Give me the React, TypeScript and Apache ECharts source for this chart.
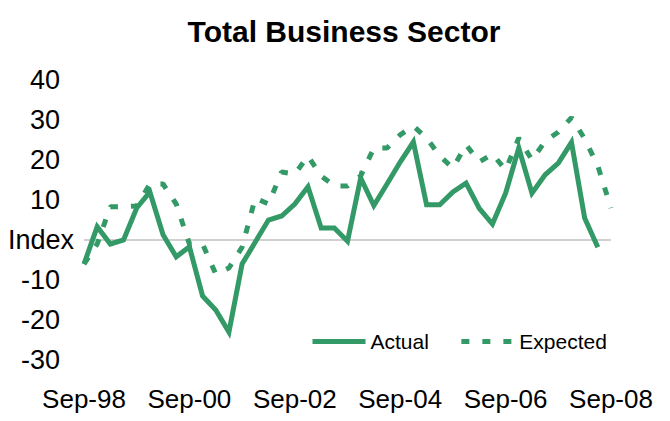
import React, { useEffect, useRef } from "react";
import * as echarts from "echarts";

const categories: string[] = [
  "Sep-98", "Dec-98", "Mar-99", "Jun-99", "Sep-99", "Dec-99", "Mar-00", "Jun-00",
  "Sep-00", "Dec-00", "Mar-01", "Jun-01", "Sep-01", "Dec-01", "Mar-02", "Jun-02",
  "Sep-02", "Dec-02", "Mar-03", "Jun-03", "Sep-03", "Dec-03", "Mar-04", "Jun-04",
  "Sep-04", "Dec-04", "Mar-05", "Jun-05", "Sep-05", "Dec-05", "Mar-06", "Jun-06",
  "Sep-06", "Dec-06", "Mar-07", "Jun-07", "Sep-07", "Dec-07", "Mar-08", "Jun-08",
  "Sep-08",
];

const actual: (number | null)[] = [
  -6, 3.3, -1, 0, 8, 12, 1.3, -4.2, -1.7, -14, -17.5, -23, -6, -0.5, 5, 6,
  9, 13.3, 3, 3, -0.3, 15.5, 8.6, 14, 19.5, 24.5, 8.8, 8.8, 12, 14.2, 7.9, 4,
  11.7, 23, 11.7, 16.3, 19.2, 24.4, 5.5, -1.8, null,
];

const expected: number[] = [
  -6, -1, 8.3, 8.3, 8.5, 14, 14, 9, -1, -1, -8.5, -7, -1.8, 10.5, 9, 17,
  16.5, 21, 16, 13.5, 13.5, 16, 23, 23, 26.3, 28.5, 25.5, 21, 18, 23.8, 19.5, 21.5,
  17.5, 25.5, 20, 24.7, 27, 30.6, 25.3, 18.5, 8,
];

const yTicks = { min: -30, max: 40, interval: 10 };
const zeroLabel = "Index";
const seriesNames = ["Actual", "Expected"];
const title = "Total Business Sector";

const GREEN = "#339966";
const FONT = "'Liberation Sans', Arial, sans-serif";

export default function App() {
  const ref = useRef<HTMLDivElement>(null);
  useEffect(() => {
    if (!ref.current) return;
    const chart = echarts.init(ref.current, null, { renderer: "svg" });
    chart.setOption({
      animation: false,
      backgroundColor: "#ffffff",
      textStyle: { fontFamily: FONT },
      title: {
        text: title,
        left: 339,
        textAlign: "center",
        top: 11,
        textStyle: { fontFamily: FONT, fontSize: 30, fontWeight: "bold", color: "#000" },
      },
      grid: { left: 84, right: 59, top: 80, bottom: 61 },
      legend: {
        left: 310,
        top: 331,
        padding: 0,
        itemWidth: 53,
        itemHeight: 14,
        itemGap: 30,
        data: seriesNames,
        itemStyle: { opacity: 0 },
        lineStyle: { width: 5 },
        textStyle: { fontFamily: FONT, fontSize: 21, color: "#000" },
      },
      xAxis: {
        type: "category",
        data: categories,
        boundaryGap: false,
        axisLine: { show: false },
        axisTick: { show: false },
        splitLine: { show: false },
        axisLabel: {
          interval: 7,
          margin: 26,
          fontFamily: FONT,
          fontSize: 26,
          color: "#000",
        },
      },
      yAxis: {
        type: "value",
        min: yTicks.min,
        max: yTicks.max,
        interval: yTicks.interval,
        axisLine: { show: false },
        axisTick: { show: false },
        splitLine: { show: false },
        axisLabel: {
          margin: 24,
          fontFamily: FONT,
          fontSize: 27,
          color: "#000",
          formatter: (v: number) => (v === 0 ? "" : String(v)),
        },
      },
      graphic: [
        {
          type: "text",
          left: 8,
          top: 226,
          style: { text: zeroLabel, font: `27px ${FONT}`, fill: "#000" },
        },
      ],
      series: [
        {
          name: seriesNames[0],
          type: "line",
          data: actual,
          symbol: "none",
          lineStyle: { color: GREEN, width: 5, join: "miter" },
          itemStyle: { color: GREEN },
          z: 3,
          markLine: {
            silent: true,
            symbol: "none",
            label: { show: false },
            lineStyle: { color: "#c0c0c0", width: 1.5, type: "solid" },
            data: [{ yAxis: 0 }],
            z: 1,
          },
        },
        {
          name: seriesNames[1],
          type: "line",
          data: expected,
          symbol: "none",
          lineStyle: { color: GREEN, width: 5, type: [8, 13], cap: "butt" },
          itemStyle: { color: GREEN },
          z: 2,
        },
      ],
    });
    return () => chart.dispose();
  }, []);
  return (
    <div
      ref={ref}
      style={{ position: "fixed", left: 0, top: 0, width: 670, height: 421, background: "#fff" }}
    />
  );
}
